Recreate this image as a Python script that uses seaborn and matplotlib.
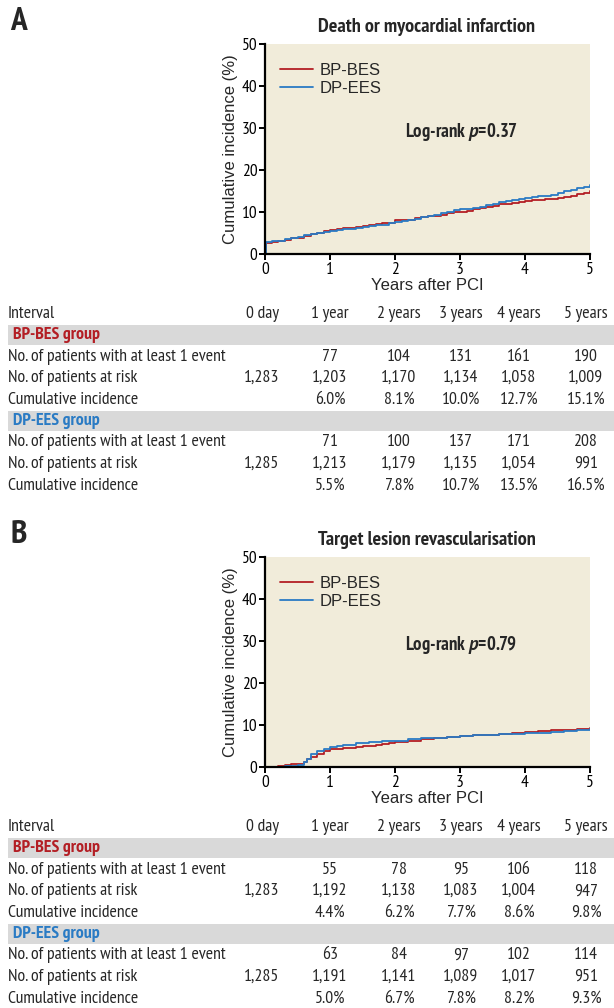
import matplotlib
matplotlib.use("Agg")
import matplotlib.pyplot as plt
from matplotlib.patches import Rectangle
import seaborn as sns
import pandas as pd

# ---- Panel A: death or myocardial infarction (cumulative incidence, %) ----
a_bp_t = [0, 0.02, 0.1, 0.2, 0.3, 0.4, 0.5, 0.6, 0.7, 0.8, 0.9, 1.0, 1.1, 1.2, 1.3, 1.4,
          1.5, 1.6, 1.7, 1.8, 1.9, 2.0, 2.1, 2.2, 2.3, 2.4, 2.5, 2.6, 2.7, 2.8, 2.9, 3.0,
          3.1, 3.2, 3.3, 3.4, 3.5, 3.6, 3.7, 3.8, 3.9, 4.0, 4.1, 4.2, 4.3, 4.4, 4.5, 4.6,
          4.7, 4.8, 4.9, 5.0]
a_bp_y = [0, 2.7, 2.9, 3.1, 3.4, 3.7, 3.9, 4.3, 4.7, 5.0, 5.4, 5.8, 6.0, 6.1, 6.3, 6.5,
          6.6, 6.9, 7.1, 7.3, 7.5, 8.0, 8.1, 8.2, 8.5, 8.8, 9.0, 9.1, 9.4, 9.7, 9.9, 10.1,
          10.3, 10.6, 10.9, 11.2, 11.5, 11.8, 12.0, 12.2, 12.4, 12.7, 12.8, 12.9, 13.0, 13.1, 13.3, 13.6,
          13.9, 14.3, 14.6, 15.0]
a_dp_t = a_bp_t
a_dp_y = [0, 2.8, 3.0, 3.2, 3.5, 3.8, 4.1, 4.5, 4.8, 5.1, 5.3, 5.5, 5.7, 5.9, 6.0, 6.2,
          6.4, 6.6, 6.8, 7.0, 7.3, 7.6, 7.8, 8.0, 8.4, 8.7, 9.0, 9.3, 9.7, 10.1, 10.4, 10.6,
          10.8, 11.0, 11.3, 11.6, 11.9, 12.4, 12.7, 12.9, 13.1, 13.3, 13.5, 13.7, 13.9, 14.1, 14.6, 15.0,
          15.3, 15.6, 16.0, 16.4]

# ---- Panel B: target lesion revascularisation (cumulative incidence, %) ----
b_bp_t = [0, 0.2, 0.3, 0.4, 0.5, 0.6, 0.65, 0.7, 0.8, 0.9, 1.0, 1.1, 1.2, 1.3, 1.4, 1.5,
          1.6, 1.7, 1.8, 1.9, 2.0, 2.2, 2.4, 2.6, 2.8, 3.0, 3.2, 3.4, 3.6, 3.8, 4.0, 4.2,
          4.4, 4.6, 4.8, 5.0]
b_bp_y = [0, 0.3, 0.5, 0.7, 0.8, 1.2, 1.8, 2.4, 3.2, 3.8, 4.2, 4.4, 4.5, 4.6, 4.7, 4.9,
          5.0, 5.2, 5.5, 5.8, 6.0, 6.3, 6.6, 6.9, 7.2, 7.5, 7.6, 7.7, 7.9, 8.1, 8.3, 8.5,
          8.7, 8.9, 9.1, 9.3]
b_dp_t = [0, 0.3, 0.5, 0.6, 0.65, 0.7, 0.8, 0.9, 1.0, 1.1, 1.2, 1.4, 1.6, 1.8, 2.0, 2.2,
          2.4, 2.6, 2.8, 3.0, 3.2, 3.4, 3.6, 3.8, 4.0, 4.2, 4.4, 4.6, 4.8, 5.0]
b_dp_y = [0, 0.2, 0.5, 1.2, 2.0, 3.0, 3.9, 4.4, 4.8, 5.1, 5.3, 5.6, 5.9, 6.1, 6.3, 6.6,
          6.8, 7.0, 7.2, 7.4, 7.6, 7.7, 7.8, 7.9, 8.0, 8.2, 8.4, 8.6, 8.8, 9.0]

# ---- Tables ----
intervals = ["0 day", "1 year", "2 years", "3 years", "4 years", "5 years"]
row_labels = ["No. of patients with at least 1 event", "No. of patients at risk",
              "Cumulative incidence"]

a_bp_events = ["", "77", "104", "131", "161", "190"]
a_bp_risk = ["1,283", "1,203", "1,170", "1,134", "1,058", "1,009"]
a_bp_cum = ["", "6.0%", "8.1%", "10.0%", "12.7%", "15.1%"]
a_dp_events = ["", "71", "100", "137", "171", "208"]
a_dp_risk = ["1,285", "1,213", "1,179", "1,135", "1,054", "991"]
a_dp_cum = ["", "5.5%", "7.8%", "10.7%", "13.5%", "16.5%"]

b_bp_events = ["", "55", "78", "95", "106", "118"]
b_bp_risk = ["1,283", "1,192", "1,138", "1,083", "1,004", "947"]
b_bp_cum = ["", "4.4%", "6.2%", "7.7%", "8.6%", "9.8%"]
b_dp_events = ["", "63", "84", "97", "102", "114"]
b_dp_risk = ["1,285", "1,191", "1,141", "1,089", "1,017", "951"]
b_dp_cum = ["", "5.0%", "6.7%", "7.8%", "8.2%", "9.3%"]

groups = ["BP-BES", "DP-EES"]
RED = "#b31e24"
BLUE = "#2a7bc4"
BG = "#f1ecda"
BAND = "#d9d9d9"

sns.set_theme(style="ticks")
NARROW = ["PT Sans Narrow", "DejaVu Sans"]
PLAIN = ["Liberation Sans", "DejaVu Sans"]
plt.rcParams["font.family"] = NARROW
plt.rcParams["mathtext.fontset"] = "custom"
plt.rcParams["mathtext.it"] = "PT Sans:italic:bold"
plt.rcParams["mathtext.rm"] = "PT Sans Narrow:bold"

W, H = 614, 1008
fig = plt.figure(figsize=(W / 100, H / 100), dpi=100)


def fx(x):
    return x / W


def fy(y):
    return 1 - y / H


def km_panel(top, letter, title, ptext, bp_t, bp_y, dp_t, dp_y):
    ax = fig.add_axes([fx(265), fy(top + 210), fx(325), 210 / H])
    df = pd.concat([
        pd.DataFrame({"t": bp_t, "y": bp_y, "g": groups[0]}),
        pd.DataFrame({"t": dp_t, "y": dp_y, "g": groups[1]}),
    ])
    sns.lineplot(data=df, x="t", y="y", hue="g", palette=[RED, BLUE],
                 drawstyle="steps-post", linewidth=1.3, estimator=None, ax=ax)
    ax.set_facecolor(BG)
    ax.set_xlim(0, 5)
    ax.set_ylim(0, 50)
    ax.set_xticks(range(0, 6))
    ax.set_yticks(range(0, 51, 10))
    for s in ["top", "right"]:
        ax.spines[s].set_visible(False)
    for s in ["left", "bottom"]:
        ax.spines[s].set_linewidth(1.6)
        ax.spines[s].set_color("black")
    ax.tick_params(axis="both", length=4, width=1.4, labelsize=12.5, pad=1.5,
                   colors="black")
    ax.set_xlabel("Years after PCI", family=PLAIN, fontsize=12, labelpad=0)
    ax.set_ylabel("Cumulative incidence (%)", family=PLAIN, fontsize=12, labelpad=3)
    leg = ax.legend(loc="upper left", frameon=False, handlelength=2.0,
                    handletextpad=0.4, labelspacing=0.15,
                    bbox_to_anchor=(0.0, 0.98), prop={"family": PLAIN, "size": 12})
    for line in leg.get_lines():
        line.set_linewidth(1.3)
    ax.text(2.15, 29, r"Log-rank $\it{p}$=" + ptext, fontsize=13.5,
            fontweight="bold", va="center", ha="left")
    fig.text(fx(10), fy(top - 22), letter, fontsize=24, fontweight="bold",
             va="center", ha="left")
    fig.text(fx(427), fy(top - 17), title, fontsize=14.5, fontweight="bold",
             va="center", ha="center")
    return ax


col_x = [262, 330, 399, 461, 519, 586]


def table(y0, bp_rows, dp_rows):
    fs = 12.8
    fig.text(fx(8), fy(y0), "Interval", fontsize=fs, va="center", ha="left")
    for i, lab in enumerate(intervals):
        fig.text(fx(col_x[i]), fy(y0), lab, fontsize=fs, va="center", ha="center")
    y = y0
    for gname, color, rows in [(groups[0], RED, bp_rows), (groups[1], BLUE, dp_rows)]:
        y += 21
        fig.patches.append(Rectangle((fx(8), fy(y + 10)), fx(606), 20 / H,
                                     transform=fig.transFigure, facecolor=BAND,
                                     edgecolor="none", zorder=0))
        fig.text(fx(13), fy(y), gname + " group", fontsize=fs, fontweight="bold",
                 color=color, va="center", ha="left")
        for lab, vals in zip(row_labels, rows):
            y += 21.6
            fig.text(fx(8), fy(y), lab, fontsize=fs, va="center", ha="left")
            for i, v in enumerate(vals):
                if v:
                    fig.text(fx(col_x[i]), fy(y), v, fontsize=fs, va="center",
                             ha="center")


km_panel(44, "A", "Death or myocardial infarction", "0.37",
         a_bp_t, a_bp_y, a_dp_t, a_dp_y)
table(314, [a_bp_events, a_bp_risk, a_bp_cum], [a_dp_events, a_dp_risk, a_dp_cum])

km_panel(557, "B", "Target lesion revascularisation", "0.79",
         b_bp_t, b_bp_y, b_dp_t, b_dp_y)
table(827, [b_bp_events, b_bp_risk, b_bp_cum], [b_dp_events, b_dp_risk, b_dp_cum])

fig.savefig("out.png", dpi=100, facecolor="white")
